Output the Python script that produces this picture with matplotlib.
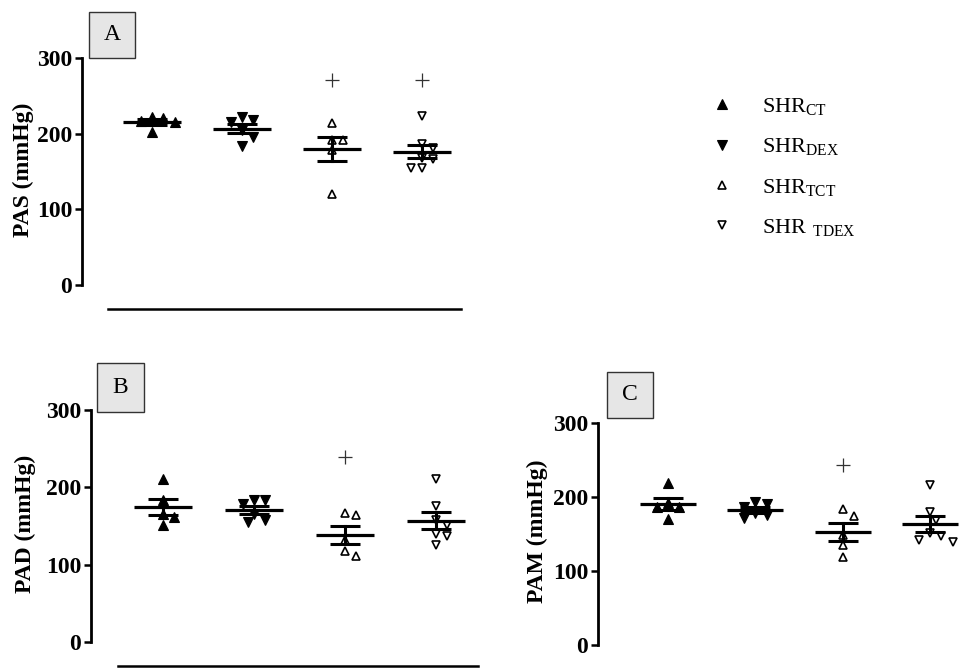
import matplotlib
matplotlib.use("Agg")
import matplotlib.pyplot as plt
import numpy as np
from matplotlib.lines import Line2D
from matplotlib.patches import Rectangle

plt.rcParams['font.family'] = ['Liberation Serif', 'DejaVu Serif']
plt.rcParams['mathtext.fontset'] = 'custom'
plt.rcParams['mathtext.rm'] = 'Liberation Serif'

# ---------------- data ----------------
groups = ['SHR_CT', 'SHR_DEX', 'SHR_TCT', 'SHR_TDEX']
legend_labels = [r'$\mathregular{SHR_{CT}}$', r'$\mathregular{SHR_{DEX}}$',
                 r'$\mathregular{SHR_{TCT}}$', r'$\mathregular{SHR\ _{TDEX}}$']

pas_ct = [222, 221, 217, 215, 202]
pas_dex = [218, 216, 222, 205, 195, 184]
pas_tct = [214, 192, 192, 178, 120]
pas_tdex = [223, 186, 181, 168, 166, 155, 155]

pad_ct = [211, 184, 166, 162, 151]
pad_dex = [184, 183, 178, 165, 158, 155]
pad_tct = [164, 167, 132, 118, 111]
pad_tdex = [211, 176, 158, 151, 140, 137, 125]

pam_ct = [219, 186, 186, 192, 170]
pam_dex = [193, 191, 186, 178, 176, 171]
pam_tct = [184, 174, 149, 135, 119]
pam_tdex = [216, 180, 169, 147, 139, 142, 151]

# significance markers (+): group index -> value
pas_plus = {2: 271, 3: 271}
pad_plus = {2: 239}
pam_plus = {2: 243}

yticks = [0, 100, 200, 300]

W, H = 963, 668
fig = plt.figure(figsize=(W / 100, H / 100), dpi=100)


def px_axes(left, top, right, bottom):
    return fig.add_axes([left / W, 1 - bottom / H, (right - left) / W, (bottom - top) / H])


markers = ['^', 'v', '^', 'v']
faces = ['black', 'black', 'white', 'white']
msizes = [7.5, 7.5, 6.0, 6.0]
mews = [0.8, 0.8, 1.2, 1.2]


def swarm(ax, vals, center, diam_px=9.5):
    # simple beeswarm: offsets in pixel space converted through axes transform
    t = ax.transData
    pts = []
    order = np.argsort(vals)[::-1]
    xs = np.zeros(len(vals))
    for i in order:
        _, yp = t.transform((center, vals[i]))
        cands = [0]
        for k in range(1, 6):
            cands += [k * diam_px * 0.6, -k * diam_px * 0.6]
        for off in cands:
            ok = all(np.hypot(off - po, yp - pyy) >= diam_px for po, pyy in pts)
            if ok:
                break
        pts.append((off, yp))
        x0p, _ = t.transform((center, vals[i]))
        xs[i] = t.inverted().transform((x0p + off, yp))[0]
    return xs


def panel(box, ylabel, data, plus, label_letter, letter_box, ylabel_pos):
    left, top, right, bottom, c1, c4 = box
    ax = px_axes(left, top, right, bottom)
    ppu = (c4 - c1) / 3.0
    x0 = 1 - (c1 - left) / ppu
    x1 = 4 + (right - c4) / ppu
    ax.set_xlim(x0, x1)
    ax.set_ylim(0, 300)
    for s in ['top', 'right', 'bottom']:
        ax.spines[s].set_visible(False)
    ax.spines['left'].set_linewidth(2.0)
    ax.set_xticks([])
    ax.set_yticks(yticks)
    ax.tick_params(axis='y', direction='out', length=5, width=1.8, pad=2,
                   labelsize=17)
    for lab in ax.get_yticklabels():
        lab.set_fontweight('bold')
    for gi, vals in enumerate(data):
        center = gi + 1
        xs = swarm(ax, vals, center)
        ax.plot(xs, vals, linestyle='none', marker=markers[gi], markersize=msizes[gi],
                markerfacecolor=faces[gi], markeredgecolor='black',
                markeredgewidth=mews[gi], clip_on=False, zorder=3)
        m = np.mean(vals)
        sem = np.std(vals, ddof=1) / np.sqrt(len(vals))
        ax.plot([center - 0.32, center + 0.32], [m, m], color='black', lw=2.3,
                solid_capstyle='butt', zorder=4)
        ax.plot([center - 0.17, center + 0.17], [m + sem, m + sem], color='black', lw=2.2,
                solid_capstyle='butt', zorder=4)
        ax.plot([center - 0.17, center + 0.17], [m - sem, m - sem], color='black', lw=2.2,
                solid_capstyle='butt', zorder=4)
        ax.plot([center, center], [m - sem, m + sem], color='black', lw=2.2, zorder=4)
    for gi, v in plus.items():
        ax.plot([gi + 1], [v], linestyle='none', marker='+', markersize=10,
                markeredgewidth=0.9, color='#333333', clip_on=False)
    # y label
    fig.text(ylabel_pos[0] / W, 1 - ylabel_pos[1] / H, ylabel, rotation=90,
             ha='center', va='center', fontsize=17, fontweight='bold')
    # letter box
    bl, bt, br, bb = letter_box
    fig.add_artist(Rectangle((bl / W, 1 - bb / H), (br - bl) / W, (bb - bt) / H,
                             transform=fig.transFigure, facecolor='#e6e6e6',
                             edgecolor='#333333', lw=1.0))
    fig.text((bl + br) / 2 / W, 1 - (bt + bb) / 2 / H, label_letter, ha='center',
             va='center', fontsize=17)
    return ax


panel((82, 58, 470, 285, 152, 422), 'PAS (mmHg)',
      [pas_ct, pas_dex, pas_tct, pas_tdex], pas_plus, 'A', (89, 12, 135, 58), (23, 170))
panel((91, 410, 475, 642, 163, 436), 'PAD (mmHg)',
      [pad_ct, pad_dex, pad_tct, pad_tdex], pad_plus, 'B', (97, 363, 144, 412), (25, 524))
panel((598, 423, 963, 645, 668, 930), 'PAM (mmHg)',
      [pam_ct, pam_dex, pam_tct, pam_tdex], pam_plus, 'C', (607, 372, 653, 418), (537, 531))

# underlines below panels A and B
fig.add_artist(Line2D([108 / W, 461 / W], [1 - 309 / H, 1 - 309 / H], color='black', lw=1.8))
fig.add_artist(Line2D([118 / W, 478 / W], [1 - 666 / H, 1 - 666 / H], color='black', lw=1.8))

# legend
handles = [Line2D([], [], linestyle='none', marker=markers[i], markersize=msizes[i],
                  markerfacecolor=faces[i], markeredgecolor='black', markeredgewidth=mews[i])
           for i in range(4)]
fig.legend(handles, legend_labels, loc='upper left', bbox_to_anchor=(711 / W, 1 - 96 / H),
           frameon=False, fontsize=16, handlelength=1.0, handletextpad=1.3,
           labelspacing=0.87, borderpad=0, borderaxespad=0)

fig.savefig('out.png', dpi=100)
